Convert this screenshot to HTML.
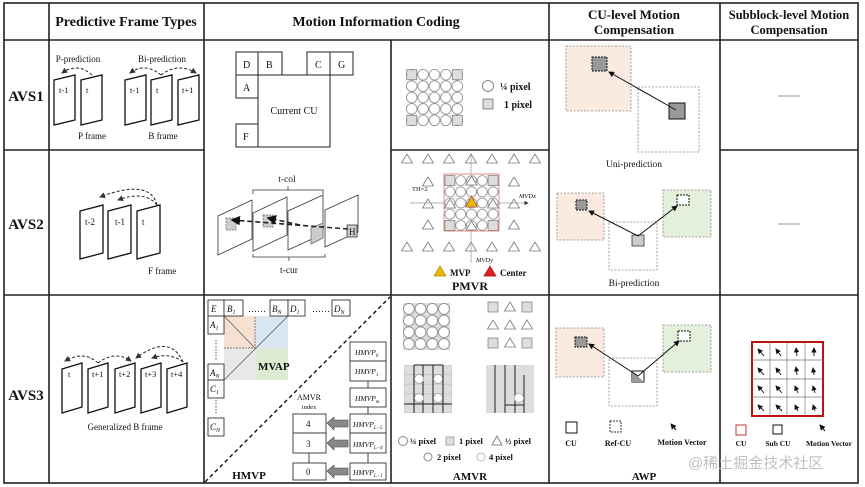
<!DOCTYPE html>
<html><head><meta charset="utf-8"><style>
html,body{margin:0;padding:0;background:#fff}
svg{display:block}
text{font-family:"Liberation Serif","Noto Serif CJK SC",serif;fill:#111}
.b{font-weight:bold}
</style></head><body>
<svg width="865" height="487" viewBox="0 0 865 487" xmlns="http://www.w3.org/2000/svg">
<defs>
<pattern id="circ" x="406" y="69" width="11.4" height="11.4" patternUnits="userSpaceOnUse">
<circle cx="5.7" cy="5.7" r="5.3" fill="#fff" stroke="#888" stroke-width="0.8"/></pattern>
<pattern id="circP" x="444.5" y="175" width="10.8" height="11.2" patternUnits="userSpaceOnUse">
<circle cx="5.4" cy="5.6" r="5" fill="#fff" stroke="#888" stroke-width="0.8"/></pattern>
<pattern id="circ2" x="403" y="303" width="11.7" height="11.7" patternUnits="userSpaceOnUse">
<rect width="11.7" height="11.7" fill="#ddd"/><circle cx="5.85" cy="5.85" r="5.4" fill="#fff" stroke="#888" stroke-width="0.8"/></pattern>
<pattern id="grd" x="404" y="365" width="9.6" height="9.6" patternUnits="userSpaceOnUse">
<rect width="9.6" height="9.6" fill="#ddd" stroke="#bbb" stroke-width="0.6"/></pattern>
<marker id="ah" markerWidth="6" markerHeight="6" refX="5" refY="3" orient="auto"><path d="M0,0 L6,3 L0,6 z" fill="#111"/></marker>
<marker id="ahd" markerWidth="6" markerHeight="6" refX="5" refY="3" orient="auto"><path d="M0,0 L6,3 L0,6 z" fill="#333"/></marker>
<g id="tri"><path d="M0,-5 L5.5,4 L-5.5,4 z" fill="#fff" stroke="#777" stroke-width="0.8"/></g>
<g id="sq"><rect x="-5" y="-5" width="10" height="10" fill="#ddd" stroke="#888" stroke-width="0.8"/></g>
</defs>

<g stroke="#222" stroke-width="1.6" fill="none">
<rect x="4" y="3" width="854" height="480"/>
<line x1="4" y1="40" x2="858" y2="40"/>
<line x1="4" y1="150" x2="204" y2="150"/>
<line x1="391" y1="150" x2="549" y2="150"/>
<line x1="720" y1="150" x2="858" y2="150"/>
<line x1="4" y1="295" x2="858" y2="295"/>
<line x1="49" y1="3" x2="49" y2="483"/>
<line x1="204" y1="3" x2="204" y2="483"/>
<line x1="391" y1="40" x2="391" y2="483"/>
<line x1="549" y1="3" x2="549" y2="483"/>
<line x1="720" y1="3" x2="720" y2="483"/>
</g>

<text x="126" y="26" font-size="14" class="b" text-anchor="middle">Predictive Frame Types</text>
<text x="376" y="26" font-size="14" class="b" text-anchor="middle">Motion Information Coding</text>
<text x="634" y="19" font-size="13" class="b" text-anchor="middle">CU-level Motion</text>
<text x="634" y="34" font-size="13" class="b" text-anchor="middle">Compensation</text>
<text x="789" y="19" font-size="12.5" class="b" text-anchor="middle">Subblock-level Motion</text>
<text x="789" y="34" font-size="12.5" class="b" text-anchor="middle">Compensation</text>
<text x="26" y="101" font-size="15" class="b" text-anchor="middle">AVS1</text>
<text x="26" y="229" font-size="15" class="b" text-anchor="middle">AVS2</text>
<text x="26" y="400" font-size="15" class="b" text-anchor="middle">AVS3</text>

<g stroke="#111" stroke-width="1.3" fill="#fff">
<path d="M54,80 L75,75 L75,120 L54,125 z"/>
<path d="M81,80 L102,75 L102,120 L81,125 z"/>
<path d="M125,80 L146,75 L146,120 L125,125 z"/>
<path d="M151,80 L172,75 L172,120 L151,125 z"/>
<path d="M178,80 L199,75 L199,120 L178,125 z"/>
</g>
<g font-size="8.5">
<text x="59" y="93">t-1</text><text x="86" y="93">t</text>
<text x="130" y="93">t-1</text><text x="156" y="93">t</text><text x="182" y="93">t+1</text>
<text x="78" y="62" font-size="9" text-anchor="middle">P-prediction</text>
<text x="162" y="62" font-size="9" text-anchor="middle">Bi-prediction</text>
<text x="92" y="139" font-size="9" text-anchor="middle">P frame</text>
<text x="163" y="139" font-size="9" text-anchor="middle">B frame</text>
</g>
<g stroke="#222" stroke-width="1" fill="none" stroke-dasharray="3,2">
<path d="M92,75 Q78,62 62,73" marker-end="url(#ahd)"/>
<path d="M161,75 Q145,62 130,73" marker-end="url(#ahd)"/>
<path d="M161,75 Q178,62 196,73" marker-end="url(#ahd)"/>
</g>

<g stroke="#222" stroke-width="1" fill="#fff">
<rect x="236" y="52" width="22" height="23"/><rect x="258" y="52" width="24" height="23"/>
<rect x="307" y="52" width="23" height="23"/><rect x="330" y="52" width="23" height="23"/>
<rect x="236" y="75" width="22" height="23"/>
<rect x="258" y="75" width="72" height="72"/>
<rect x="236" y="124" width="22" height="23"/>
</g>
<g font-size="10">
<text x="243" y="68">D</text><text x="266" y="68">B</text><text x="315" y="68">C</text><text x="338" y="68">G</text>
<text x="243" y="91">A</text><text x="243" y="140">F</text>
<text x="294" y="114" text-anchor="middle">Current CU</text>
</g>

<rect x="406" y="69" width="57" height="57" fill="url(#circ)"/>
<use href="#sq" x="411.7" y="74.7"/><use href="#sq" x="457.3" y="74.7"/>
<use href="#sq" x="411.7" y="120.3"/><use href="#sq" x="457.3" y="120.3"/>
<circle cx="488" cy="86" r="5.5" fill="#fff" stroke="#888"/>
<text x="500" y="90" font-size="10" class="b">¼ pixel</text>
<rect x="483" y="99" width="10" height="10" fill="#ddd" stroke="#888"/>
<text x="504" y="108" font-size="10" class="b">1 pixel</text>

<g stroke="#111" stroke-width="1.3" fill="#fff">
<path d="M80,211 L103,205 L103,253 L80,259 z"/>
<path d="M108,211 L131,205 L131,253 L108,259 z"/>
<path d="M137,211 L160,205 L160,253 L137,259 z"/>
</g>
<g font-size="9"><text x="85" y="225">t-2</text><text x="115" y="225">t-1</text><text x="142" y="225">t</text>
<text x="148" y="274">F frame</text></g>
<g stroke="#222" stroke-width="1" fill="none" stroke-dasharray="3,2">
<path d="M157,205 Q150,178 100,197" marker-end="url(#ahd)"/>
<path d="M157,205 Q145,190 118,200" marker-end="url(#ahd)"/>
</g>

<g stroke="#333" stroke-width="0.8" fill="#fff">
<path d="M218,216 L252,200 L252,239 L218,255 z"/>
<path d="M253,213 L287,197 L287,235 L253,251 z"/>
<path d="M288,211 L323,195 L323,234 L288,250 z"/>
<path d="M325,210 L358,195 L358,232 L325,247 z"/>
</g>
<rect x="226" y="218" width="10" height="12" fill="#ccc" stroke="#666" stroke-dasharray="2,1" stroke-width="0.7"/>
<rect x="263" y="215" width="10" height="12" fill="#ccc" stroke="#666" stroke-dasharray="2,1" stroke-width="0.7"/>
<path d="M311,228 L323,223 L323,238 L311,244 z" fill="#ccc" stroke="#666" stroke-width="0.7"/>
<rect x="347" y="225" width="10" height="12" fill="#ccc" stroke="#333" stroke-width="0.8"/>
<text x="349" y="235" font-size="9">H</text>
<g stroke="#222" stroke-width="1.6" stroke-dasharray="5,3" fill="none">
<line x1="348" y1="229" x2="232" y2="220" marker-end="url(#ah)"/>
<line x1="300" y1="225" x2="268" y2="218" marker-end="url(#ah)"/>
</g>
<g stroke="#333" stroke-width="0.8" fill="none">
<path d="M253,194 L253,190 L323,190 L323,194 M288,190 L288,186"/>
<path d="M253,254 L253,257 L325,257 L325,254 M289,257 L289,261"/>
</g>
<text x="287" y="182" font-size="9.5" text-anchor="middle">t-col</text>
<text x="289" y="273" font-size="9.5" text-anchor="middle">t-cur</text>

<g>
<use href="#tri" x="407" y="159"/><use href="#tri" x="428" y="159"/><use href="#tri" x="449" y="159"/><use href="#tri" x="471" y="159"/><use href="#tri" x="492" y="159"/><use href="#tri" x="514" y="159"/><use href="#tri" x="535" y="159"/>
<use href="#tri" x="428" y="182"/><use href="#tri" x="514" y="182"/>
<use href="#tri" x="428" y="204"/><use href="#tri" x="514" y="204"/>
<use href="#tri" x="428" y="225"/><use href="#tri" x="514" y="225"/>
<use href="#tri" x="407" y="247"/><use href="#tri" x="428" y="247"/><use href="#tri" x="449" y="247"/><use href="#tri" x="471" y="247"/><use href="#tri" x="492" y="247"/><use href="#tri" x="514" y="247"/><use href="#tri" x="535" y="247"/>
</g>
<line x1="410" y1="203" x2="528" y2="203" stroke="#999" stroke-width="0.7" marker-end="url(#ahd)"/>
<line x1="471" y1="263" x2="471" y2="153" stroke="#999" stroke-width="0.7"/>
<rect x="444" y="174" width="55" height="57" fill="#fff" stroke="#e88" stroke-width="1"/>
<rect x="444.5" y="175" width="54" height="56" fill="url(#circP)"/>
<use href="#sq" x="449.9" y="180.6"/><use href="#sq" x="493.1" y="180.6"/><use href="#sq" x="449.9" y="225.4"/><use href="#sq" x="493.1" y="225.4"/>
<use href="#tri" x="471.5" y="181"/><use href="#tri" x="471.5" y="226"/><use href="#tri" x="450" y="204"/><use href="#tri" x="493" y="204"/>
<path d="M471.5,196 L477.5,207 L465.5,207 z" fill="#e8b800" stroke="#a55" stroke-width="0.8"/>
<text x="412" y="191" font-size="6.5">TH=2</text>
<text x="519" y="198" font-size="6.5" font-style="italic">MVDx</text>
<text x="476" y="262" font-size="6.5" font-style="italic">MVDy</text>
<path d="M440,266 L446,276 L434,276 z" fill="#e8b800" stroke="#a80" stroke-width="0.7"/>
<text x="450" y="276" font-size="9" class="b">MVP</text>
<path d="M490,266 L496,276 L484,276 z" fill="#d22" stroke="#a00" stroke-width="0.7"/>
<text x="500" y="276" font-size="9" class="b">Center</text>
<text x="470" y="290" font-size="12" class="b" text-anchor="middle">PMVR</text>

<g stroke="#111" stroke-width="1.3" fill="#fff">
<path d="M62,369 L82,363 L82,407 L62,413 z"/>
<path d="M88,369 L108,363 L108,407 L88,413 z"/>
<path d="M115,369 L135,363 L135,407 L115,413 z"/>
<path d="M141,369 L161,363 L161,407 L141,413 z"/>
<path d="M167,369 L187,363 L187,407 L167,413 z"/>
</g>
<g font-size="8.5"><text x="68" y="377">t</text><text x="92" y="377">t+1</text><text x="119" y="377">t+2</text><text x="145" y="377">t+3</text><text x="171" y="377">t+4</text>
<text x="125" y="430" font-size="9" text-anchor="middle">Generalized B frame</text></g>
<g stroke="#222" stroke-width="1" fill="none" stroke-dasharray="3,2">
<path d="M98,363 Q84,350 65,361" marker-end="url(#ahd)"/>
<path d="M98,363 Q115,350 131,361" marker-end="url(#ahd)"/>
<path d="M183,362 Q170,333 136,358" marker-end="url(#ahd)"/>
<path d="M183,362 Q170,352 152,358" marker-end="url(#ahd)"/>
</g>

<rect x="224" y="316" width="31" height="32" fill="#f6e0d2"/>
<rect x="255" y="316" width="33" height="32" fill="#dbe6f3"/>
<rect x="255" y="348" width="33" height="32" fill="#dcecd2"/>
<rect x="224" y="348" width="31" height="32" fill="#e8e8e8"/>
<g stroke="#555" stroke-width="0.7" fill="none">
<line x1="224" y1="316" x2="255" y2="348"/><line x1="224" y1="380" x2="288" y2="316"/>
<path d="M224,348 L255,348 L255,316" stroke-dasharray="2,1"/>
</g>
<g stroke="#333" stroke-width="0.9" fill="#fff">
<rect x="208" y="300" width="16" height="16"/><rect x="224" y="300" width="19" height="16"/>
<rect x="270" y="300" width="18" height="16"/><rect x="288" y="300" width="17" height="16"/><rect x="332" y="300" width="18" height="16"/>
<rect x="208" y="316" width="16" height="18"/><rect x="208" y="364" width="16" height="16"/>
<rect x="208" y="380" width="16" height="18"/><rect x="208" y="418" width="16" height="18"/>
</g>
<g font-size="9" font-style="italic">
<text x="211" y="312">E</text><text x="227" y="312">B<tspan font-size="6" dy="2">1</tspan></text>
<text x="272" y="312">B<tspan font-size="6" dy="2">N</tspan></text><text x="290" y="312">D<tspan font-size="6" dy="2">1</tspan></text>
<text x="334" y="312">D<tspan font-size="6" dy="2">N</tspan></text>
<text x="210" y="328">A<tspan font-size="6" dy="2">1</tspan></text><text x="210" y="376">A<tspan font-size="6" dy="2">N</tspan></text>
<text x="210" y="392">C<tspan font-size="6" dy="2">1</tspan></text><text x="210" y="430">C<tspan font-size="6" dy="2">N</tspan></text>
</g>
<text x="248" y="312" font-size="9">……</text><text x="312" y="312" font-size="9">……</text>
<line x1="216" y1="340" x2="216" y2="360" stroke="#555" stroke-dasharray="1.5,1.5"/>
<line x1="216" y1="400" x2="216" y2="415" stroke="#555" stroke-dasharray="1.5,1.5"/>
<text x="258" y="370" font-size="11" class="b" fill="#143">MVAP</text>
<line x1="205" y1="482" x2="390" y2="297" stroke="#111" stroke-width="1.4" stroke-dasharray="4,3"/>
<g stroke="#333" stroke-width="0.9" fill="#fff">
<rect x="350" y="342" width="36" height="19"/><rect x="350" y="361" width="36" height="20"/>
<rect x="350" y="388" width="36" height="19"/>
<rect x="350" y="414" width="36" height="19"/><rect x="350" y="433" width="36" height="20"/>
<rect x="350" y="463" width="36" height="17"/>
<rect x="293" y="414" width="33" height="19"/><rect x="293" y="433" width="33" height="20"/><rect x="293" y="463" width="33" height="17"/>
<line x1="368" y1="381" x2="368" y2="388"/><line x1="368" y1="407" x2="368" y2="414"/><line x1="368" y1="453" x2="368" y2="463"/>
<line x1="309" y1="453" x2="309" y2="463"/>
</g>
<g font-size="7.5" font-style="italic">
<text x="355" y="355">HMVP<tspan font-size="5" dy="2">0</tspan></text>
<text x="355" y="374">HMVP<tspan font-size="5" dy="2">1</tspan></text>
<text x="355" y="401">HMVP<tspan font-size="5" dy="2">m</tspan></text>
<text x="353" y="427">HMVP<tspan font-size="5" dy="2">L−5</tspan></text>
<text x="353" y="447">HMVP<tspan font-size="5" dy="2">L−4</tspan></text>
<text x="353" y="475">HMVP<tspan font-size="5" dy="2">L−1</tspan></text>
</g>
<g font-size="9"><text x="306" y="427">4</text><text x="306" y="447">3</text><text x="306" y="475">0</text></g>
<text x="309" y="400" font-size="8" text-anchor="middle">AMVR</text>
<text x="309" y="409" font-size="6.5" text-anchor="middle">index</text>
<g fill="#888" stroke="#444" stroke-width="0.6">
<path d="M327,423 L334,417 L334,420 L348,420 L348,427 L334,427 L334,430 z"/>
<path d="M327,443 L334,437 L334,440 L348,440 L348,447 L334,447 L334,450 z"/>
<path d="M327,471 L334,465 L334,468 L348,468 L348,475 L334,475 L334,478 z"/>
</g>
<text x="249" y="479" font-size="11" class="b" text-anchor="middle">HMVP</text>

<rect x="403" y="303" width="47" height="47" fill="url(#circ2)"/>
<use href="#sq" x="493" y="307"/><use href="#tri" x="510" y="307"/><use href="#sq" x="527" y="307"/>
<use href="#tri" x="493" y="325"/><use href="#tri" x="510" y="325"/><use href="#tri" x="527" y="325"/>
<use href="#sq" x="493" y="343"/><use href="#tri" x="510" y="343"/><use href="#sq" x="527" y="343"/>
<rect x="404" y="365" width="48" height="48" fill="url(#grd)"/>
<g stroke="#222" stroke-width="1" fill="none">
<path d="M414,365 L443,365 M414,365 L414,413 M423,365 L423,413 M433,365 L433,413 M443,365 L443,413 M404,404 L452,404"/>
</g>
<g fill="#fff" stroke="#999" stroke-width="0.7">
<circle cx="419" cy="379" r="4.5"/><circle cx="438" cy="379" r="4.5"/><circle cx="419" cy="398" r="4.5"/><circle cx="438" cy="398" r="4.5"/>
</g>
<rect x="486" y="365" width="48" height="48" fill="#ddd"/>
<g stroke="#222" stroke-width="1"><line x1="495" y1="365" x2="495" y2="413"/><line x1="505" y1="365" x2="505" y2="413"/><line x1="515" y1="365" x2="515" y2="413"/><line x1="524" y1="375" x2="524" y2="413"/><line x1="505" y1="405" x2="524" y2="405"/></g>
<circle cx="519" cy="398" r="4.5" fill="#fff" stroke="#bbb"/>
<g font-size="8.5" class="b">
<circle cx="403" cy="441" r="4.5" fill="#fff" stroke="#888"/><text x="410" y="444">¼ pixel</text>
<rect x="446" y="437" width="8" height="8" fill="#ddd" stroke="#aaa"/><text x="459" y="444">1 pixel</text>
<path d="M497,436 L502,445 L492,445 z" fill="#fff" stroke="#888"/><text x="505" y="444">½ pixel</text>
<circle cx="428" cy="457" r="4" fill="#fff" stroke="#888"/><text x="437" y="460">2 pixel</text>
<circle cx="481" cy="457" r="4" fill="#fff" stroke="#bbb"/><text x="489" y="460">4 pixel</text>
</g>
<text x="470" y="480" font-size="11" class="b" text-anchor="middle">AMVR</text>

<g stroke="#888" stroke-width="0.8" stroke-dasharray="2,1.5">
<rect x="566" y="46" width="65" height="65" fill="#fbeae0"/>
<rect x="638" y="87" width="61" height="65" fill="#fff"/>
<rect x="557" y="193" width="47" height="47" fill="#fbeae0"/>
<rect x="609" y="222" width="48" height="48" fill="#fff"/>
<rect x="663" y="190" width="48" height="47" fill="#e4efdc"/>
<rect x="556" y="328" width="48" height="49" fill="#fbeae0"/>
<rect x="609" y="358" width="48" height="48" fill="#fff"/>
<rect x="663" y="325" width="48" height="47" fill="#e4efdc"/>
</g>
<g stroke="#111" stroke-width="1" stroke-dasharray="2,1">
<rect x="592" y="57" width="15" height="14" fill="#999"/>
<rect x="576" y="200" width="11" height="10" fill="#999"/>
<rect x="677" y="195" width="12" height="10" fill="#fff"/>
<rect x="575" y="337" width="12" height="10" fill="#999"/>
<rect x="678" y="331" width="12" height="10" fill="#fff"/>
</g>
<rect x="669" y="103" width="16" height="16" fill="#999" stroke="#111" stroke-width="1"/>
<rect x="632" y="235" width="12" height="11" fill="#ccc" stroke="#333" stroke-width="0.8"/>
<rect x="632" y="371" width="12" height="11" fill="#fff" stroke="#111" stroke-width="1"/>
<path d="M632,371 L644,382 L632,382 z" fill="#999"/>
<g stroke="#111" stroke-width="1" fill="none" marker-end="url(#ah)">
<line x1="676" y1="110" x2="609" y2="72"/>
<line x1="638" y1="236" x2="589" y2="211"/>
<line x1="638" y1="236" x2="677" y2="206"/>
<line x1="638" y1="376" x2="589" y2="344"/>
<line x1="638" y1="376" x2="679" y2="341"/>
</g>
<text x="634" y="167" font-size="9.5" text-anchor="middle">Uni-prediction</text>
<text x="634" y="286" font-size="9.5" text-anchor="middle">Bi-prediction</text>
<rect x="566" y="422" width="11" height="11" fill="#fff" stroke="#111"/>
<text x="571" y="446" font-size="8" class="b" text-anchor="middle">CU</text>
<rect x="610" y="421" width="11" height="11" fill="#fff" stroke="#333" stroke-dasharray="2,1"/>
<text x="618" y="446" font-size="8" class="b" text-anchor="middle">Ref-CU</text>
<line x1="676" y1="430" x2="671" y2="424" stroke="#111" marker-end="url(#ah)"/>
<text x="682" y="445" font-size="8" class="b" text-anchor="middle">Motion Vector</text>
<text x="644" y="480" font-size="11" class="b" text-anchor="middle">AWP</text>

<line x1="778" y1="96" x2="800" y2="96" stroke="#999" stroke-width="1"/>
<line x1="778" y1="224" x2="800" y2="224" stroke="#999" stroke-width="1"/>
<rect x="752" y="342" width="71" height="74" fill="#fff" stroke="#b11" stroke-width="2"/>
<g stroke="#777" stroke-width="0.7">
<line x1="770" y1="342" x2="770" y2="416"/><line x1="787" y1="342" x2="787" y2="416"/><line x1="805" y1="342" x2="805" y2="416"/>
<line x1="752" y1="360" x2="823" y2="360"/><line x1="752" y1="379" x2="823" y2="379"/><line x1="752" y1="397" x2="823" y2="397"/>
</g>
<g stroke="#111" stroke-width="0.9" marker-end="url(#ah)">
<line x1="764" y1="356" x2="758" y2="349"/><line x1="781" y1="356" x2="776" y2="349"/><line x1="797" y1="356" x2="796" y2="348"/><line x1="814" y1="356" x2="814" y2="348"/>
<line x1="764" y1="375" x2="758" y2="368"/><line x1="781" y1="375" x2="776" y2="368"/><line x1="797" y1="375" x2="796" y2="367"/><line x1="814" y1="375" x2="813" y2="368"/>
<line x1="764" y1="393" x2="758" y2="386"/><line x1="782" y1="393" x2="776" y2="386"/><line x1="798" y1="393" x2="795" y2="386"/><line x1="815" y1="393" x2="813" y2="386"/>
<line x1="764" y1="411" x2="758" y2="405"/><line x1="782" y1="411" x2="776" y2="405"/><line x1="798" y1="411" x2="795" y2="405"/><line x1="815" y1="411" x2="813" y2="405"/>
</g>
<rect x="736" y="425" width="10" height="10" fill="#fff" stroke="#c33" stroke-width="1"/>
<text x="741" y="446" font-size="7.5" class="b" text-anchor="middle">CU</text>
<rect x="773" y="425" width="9" height="9" fill="#fff" stroke="#111"/>
<text x="778" y="446" font-size="7.5" class="b" text-anchor="middle">Sub CU</text>
<line x1="825" y1="431" x2="820" y2="425" stroke="#111" marker-end="url(#ah)"/>
<text x="829" y="446" font-size="7.5" class="b" text-anchor="middle">Motion Vector</text>

<text x="688" y="468" font-size="15" style="font-family:'Liberation Sans','Noto Sans CJK SC',sans-serif;fill:#c0c0c0">@稀土掘金技术社区</text>
</svg>
</body></html>
